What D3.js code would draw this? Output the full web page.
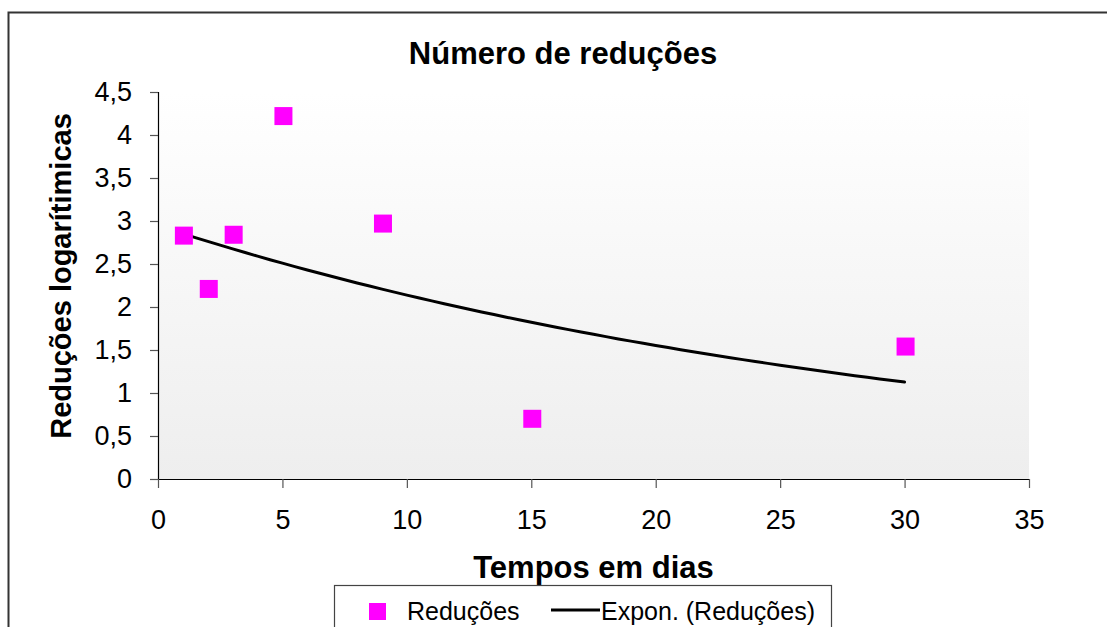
<!DOCTYPE html>
<html>
<head>
<meta charset="utf-8">
<script src="https://cdn.jsdelivr.net/npm/d3@7"></script>
<style>
  body { margin: 0; background: #fff; }
  text { font-family: "Liberation Sans", Arial, sans-serif; fill: #000; }
</style>
</head>
<body>
<div id="chart-area"></div>
<script>
// data
const dias = [1, 2, 3, 5, 9, 15, 30];
const reducoes = [2.83, 2.21, 2.84, 4.22, 2.97, 0.70, 1.54];
const xTicks = [0, 5, 10, 15, 20, 25, 30, 35];
const yTicks = [0, 0.5, 1, 1.5, 2, 2.5, 3, 3.5, 4, 4.5];

const W = 1107, H = 627;
const plot = { left: 158, right: 1029, top: 92, bottom: 479 };

const svg = d3.select("#chart-area").append("svg")
  .attr("width", W)
  .attr("height", H);

// outer frame (only top and left visible)
svg.append("path")
  .attr("d", `M8.5,${H} V12.5 H${W}`)
  .attr("fill", "none")
  .attr("stroke", "#333")
  .attr("stroke-width", 2);

const grad = svg.append("defs").append("linearGradient")
  .attr("id", "bg").attr("x1", 0).attr("y1", 0).attr("x2", 0).attr("y2", 1);
grad.append("stop").attr("offset", "0%").attr("stop-color", "#ffffff");
grad.append("stop").attr("offset", "100%").attr("stop-color", "#eeeeee");

svg.append("rect")
  .attr("x", plot.left).attr("y", plot.top)
  .attr("width", plot.right - plot.left)
  .attr("height", plot.bottom - plot.top)
  .attr("fill", "url(#bg)");

const x = d3.scaleLinear().domain([0, 35]).range([plot.left, plot.right]);
const y = d3.scaleLinear().domain([0, 4.5]).range([plot.bottom, plot.top]);
const fmt = d => String(d).replace(".", ",");

const xAxis = svg.append("g")
  .attr("transform", `translate(0,${plot.bottom})`)
  .call(d3.axisBottom(x).tickValues(xTicks).tickFormat(fmt).tickSize(9).tickPadding(22));
const yAxis = svg.append("g")
  .attr("transform", `translate(${plot.left},0)`)
  .call(d3.axisLeft(y).tickValues(yTicks).tickFormat(fmt).tickSize(8).tickPadding(18));

[xAxis, yAxis].forEach(g => {
  g.select(".domain").attr("stroke", "#000").attr("stroke-width", 1.2);
  g.selectAll(".tick line").attr("stroke", "#555").attr("stroke-width", 1.2);
  g.selectAll(".tick text")
    .attr("font-family", "Liberation Sans, Arial, sans-serif")
    .attr("font-size", 27)
    .attr("fill", "#000");
});
xAxis.select(".domain").attr("d", `M${plot.left},0.5H${plot.right}`);
yAxis.select(".domain").attr("d", `M0.5,${plot.bottom}V${plot.top}`);

// exponential trend line (least squares on ln y, as the spreadsheet does)
const lnY = reducoes.map(Math.log);
const mx = d3.mean(dias), my = d3.mean(lnY);
const b = d3.sum(dias, (d, i) => (d - mx) * (lnY[i] - my)) / d3.sum(dias, d => (d - mx) ** 2);
const a = my - b * mx;
const trendX = d3.range(d3.min(dias), d3.max(dias) + 0.01, 0.5);

svg.append("path")
  .datum(trendX)
  .attr("fill", "none")
  .attr("stroke", "#000")
  .attr("stroke-width", 3)
  .attr("stroke-linecap", "round")
  .attr("d", d3.line().x(d => x(d)).y(d => y(Math.exp(a + b * d))));

const ms = 18;
svg.append("g").selectAll("rect")
  .data(dias)
  .enter()
  .append("rect")
  .attr("x", (d) => x(d) - ms / 2 + 1)
  .attr("y", (d, i) => y(reducoes[i]) - ms / 2)
  .attr("width", ms)
  .attr("height", ms)
  .attr("fill", "#ff00ff");

// titles
svg.append("text")
  .attr("x", 563).attr("y", 64)
  .attr("text-anchor", "middle")
  .attr("font-size", 31).attr("font-weight", "bold")
  .text("Número de reduções");

svg.append("text")
  .attr("transform", "translate(71,276) rotate(-90)")
  .attr("text-anchor", "middle")
  .attr("font-size", 29).attr("font-weight", "bold")
  .text("Reduções logarítimicas");

svg.append("text")
  .attr("x", (plot.left + plot.right) / 2).attr("y", 578)
  .attr("text-anchor", "middle")
  .attr("font-size", 31).attr("font-weight", "bold")
  .text("Tempos em dias");

// legend
const leg = svg.append("g");
leg.append("rect")
  .attr("x", 334.5).attr("y", 585.5)
  .attr("width", 497).attr("height", 60)
  .attr("fill", "#fff").attr("stroke", "#444").attr("stroke-width", 1.2);
leg.append("rect")
  .attr("x", 369).attr("y", 603).attr("width", 17).attr("height", 17)
  .attr("fill", "#ff00ff");
leg.append("text")
  .attr("x", 407).attr("y", 620)
  .attr("font-size", 25)
  .text("Reduções");
leg.append("line")
  .attr("x1", 551).attr("x2", 600).attr("y1", 610).attr("y2", 610)
  .attr("stroke", "#000").attr("stroke-width", 3);
leg.append("text")
  .attr("x", 601).attr("y", 620)
  .attr("font-size", 25)
  .text("Expon. (Reduções)");
</script>
</body>
</html>
